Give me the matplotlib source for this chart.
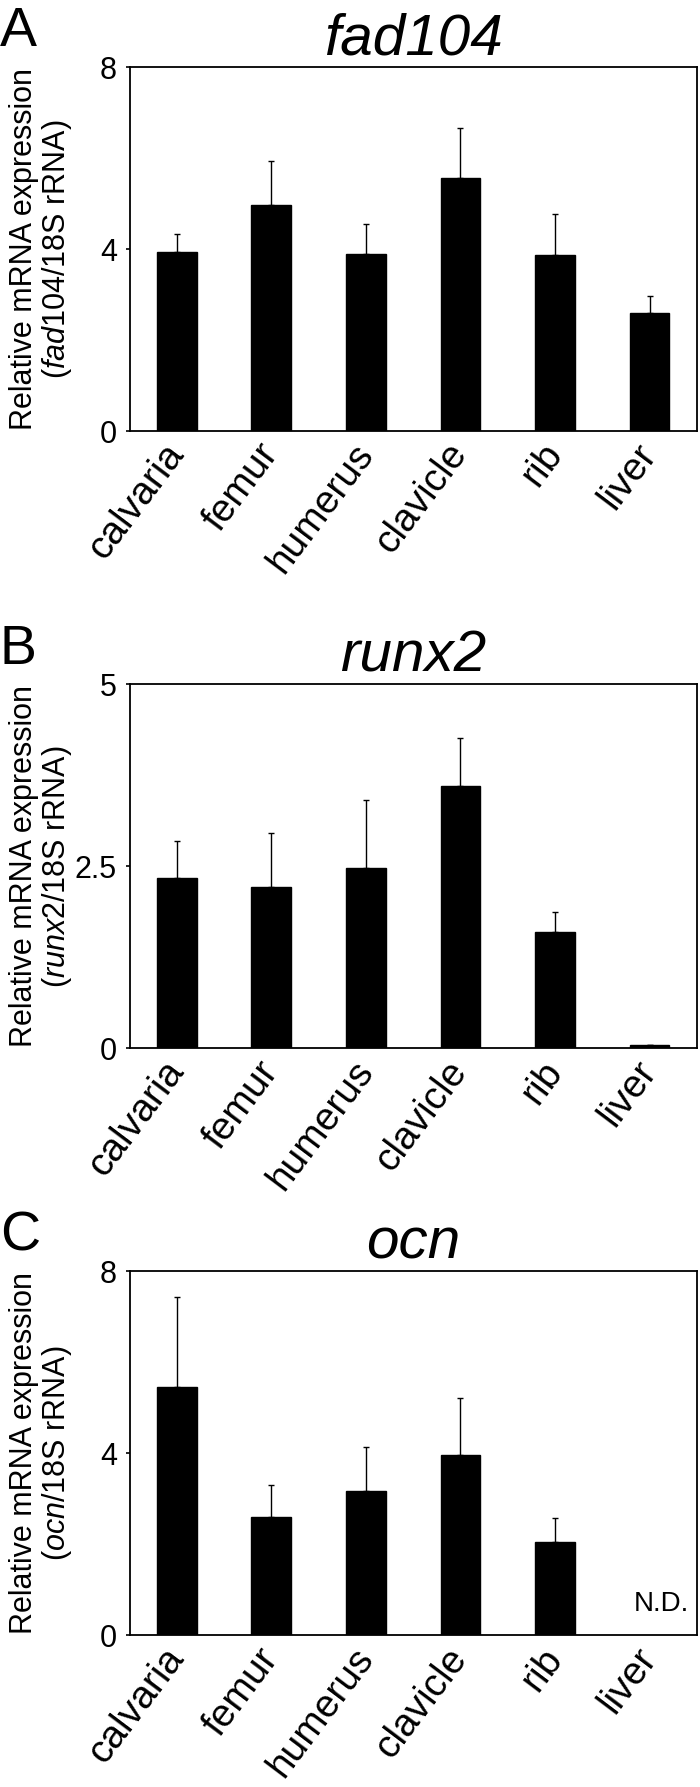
import numpy as np
import matplotlib
matplotlib.use("Agg")
import matplotlib.pyplot as plt
import matplotlib.transforms as mtransforms

plt.rcParams['font.family'] = ['Liberation Sans', 'DejaVu Sans']
plt.rcParams['mathtext.fontset'] = 'custom'
plt.rcParams['mathtext.rm'] = 'Liberation Sans'
plt.rcParams['mathtext.it'] = 'Liberation Sans:italic'

tissues = ["calvaria", "femur", "humerus", "clavicle", "rib", "liver"]

fad104_mean = [3.93, 4.96, 3.90, 5.56, 3.86, 2.60]
fad104_err = [0.41, 0.98, 0.64, 1.11, 0.91, 0.37]

runx2_mean = [2.34, 2.22, 2.48, 3.60, 1.60, 0.05]
runx2_err = [0.51, 0.74, 0.93, 0.66, 0.28, 0.0]

ocn_mean = [5.45, 2.60, 3.17, 3.97, 2.06, np.nan]  # liver not detected
ocn_err = [1.98, 0.71, 0.98, 1.24, 0.53, np.nan]

panels = [
    ("A", "fad104", fad104_mean, fad104_err, 8, [0, 4, 8], ["0", "4", "8"]),
    ("B", "runx2", runx2_mean, runx2_err, 5, [0, 2.5, 5], ["0", "2.5", "5"]),
    ("C", "ocn", ocn_mean, ocn_err, 8, [0, 4, 8], ["0", "4", "8"]),
]

fig = plt.figure(figsize=(7, 17.87), dpi=100)
tops = [0.9625, 0.6170, 0.2885]
h = 0.2037
left, w = 0.185, 0.8105

for (letter, gene, mean, err, ymax, yt, ytl), top in zip(panels, tops):
    ax = fig.add_axes([left, top - h, w, h])
    x = np.arange(len(tissues))
    m = np.array(mean, dtype=float)
    e = np.array(err, dtype=float)
    ok = ~np.isnan(m)
    ax.bar(x[ok], m[ok], width=0.42, color="black", edgecolor="black", zorder=3)
    ax.errorbar(x[ok], m[ok], yerr=[np.zeros(ok.sum()), e[ok]], fmt="none",
                ecolor="black", elinewidth=1.0, capsize=2.5, capthick=1.0, zorder=2)
    if not ok.all():
        for i in x[~ok]:
            ax.text(i + 0.12, ymax * 0.05, "N.D.", ha="center", va="bottom", fontsize=20)

    ax.set_xlim(-0.5, len(tissues) - 0.5)
    ax.set_ylim(0, ymax)
    ax.set_yticks(yt)
    ax.set_yticklabels(ytl, fontsize=22)
    ax.set_xticks(x)
    ax.set_xticklabels(tissues, fontsize=28, rotation=53, ha="right", va="center",
                       rotation_mode="anchor")
    shift = mtransforms.ScaledTranslation(0.30, 0, fig.dpi_scale_trans)
    for lab in ax.get_xticklabels():
        lab.set_transform(lab.get_transform() + shift)
    ax.tick_params(axis="x", length=0, pad=12)
    ax.tick_params(axis="y", length=3, width=1.2, direction="out", pad=6)
    for s in ax.spines.values():
        s.set_linewidth(1.3)

    ax.set_ylabel("Relative mRNA expression\n($\\mathit{" + gene + "}$/18S rRNA)",
                  fontsize=22, multialignment="center", linespacing=1.05)
    ax.yaxis.set_label_coords(-0.097, 0.5)
    ax.set_title(gene, fontsize=42, fontstyle="italic", pad=9)
    fig.text(0.0, top + 0.034, letter, fontsize=40, ha="left", va="top")

fig.savefig("out.png", dpi=100)
